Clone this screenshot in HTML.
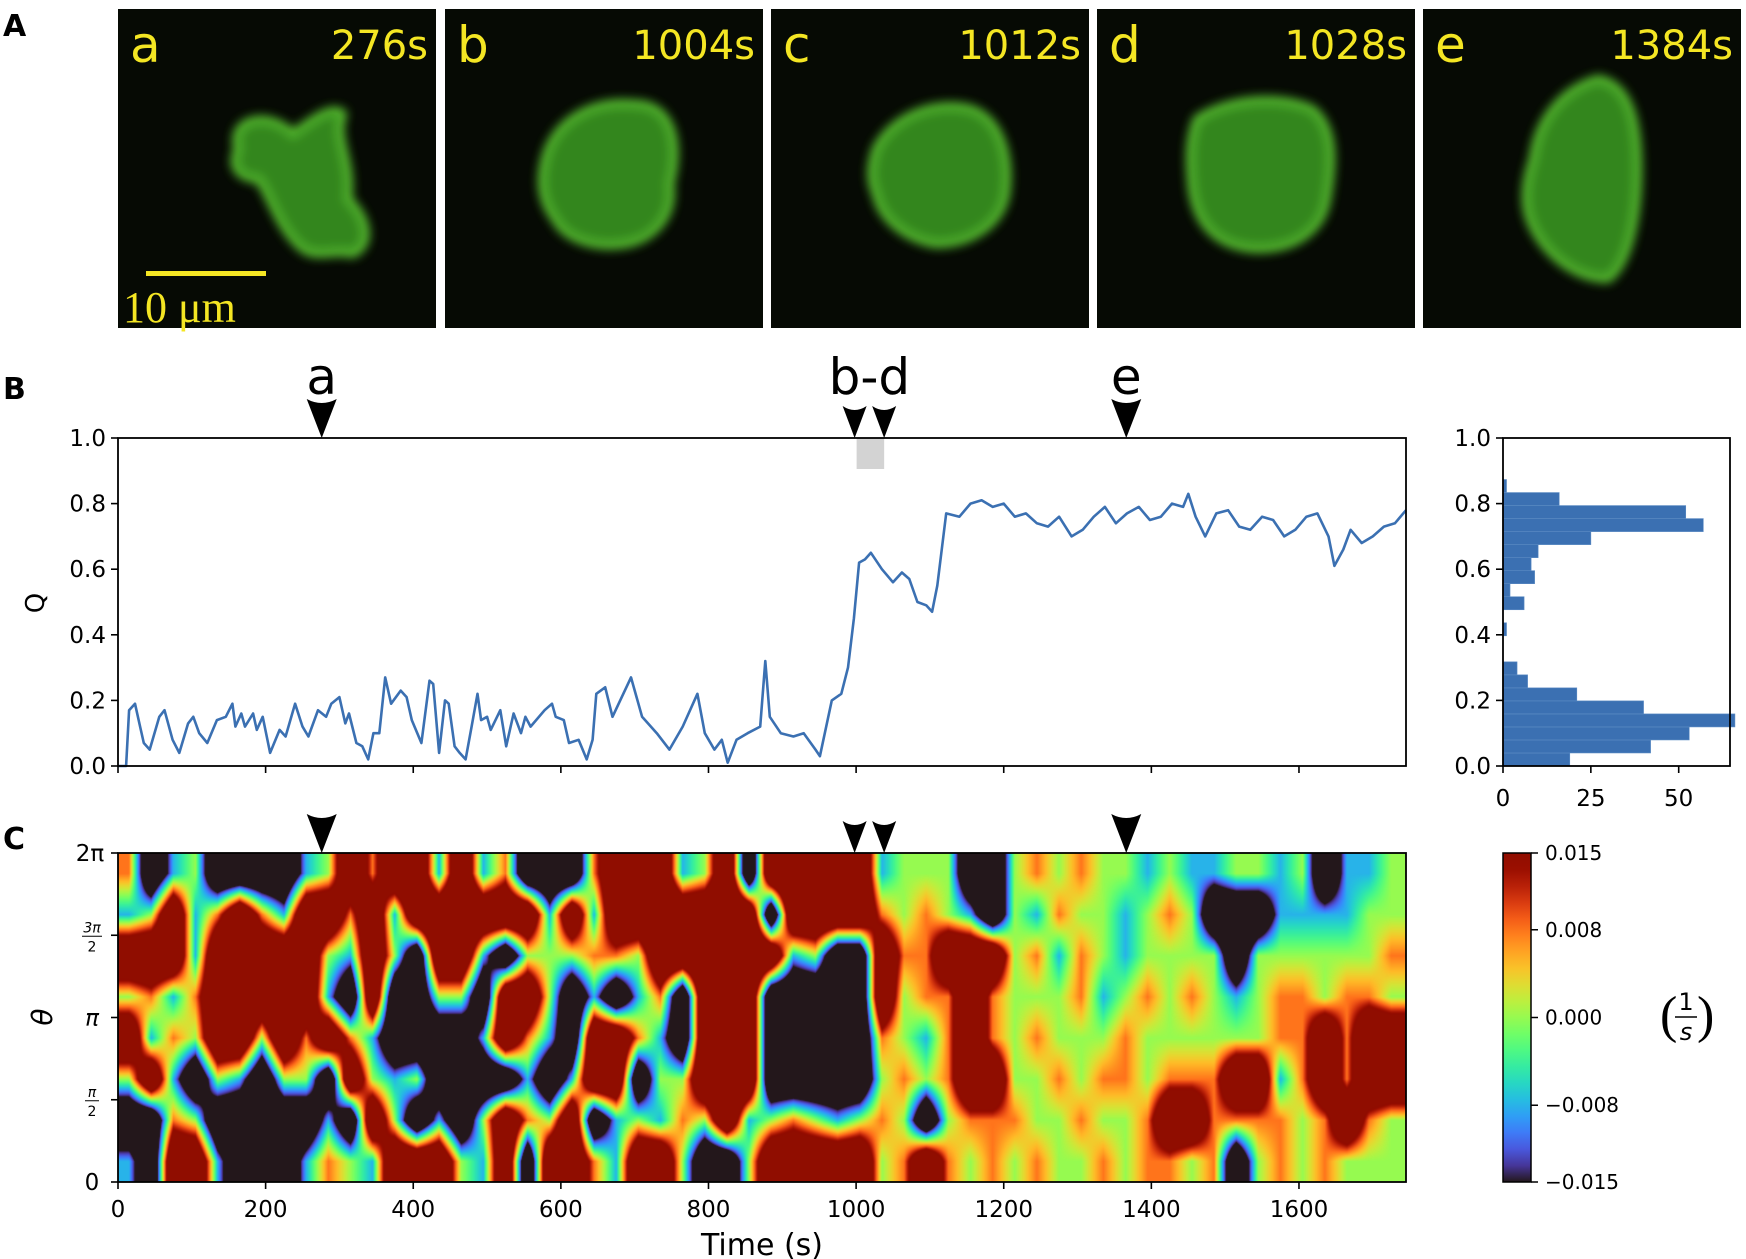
<!DOCTYPE html>
<html><head><meta charset="utf-8">
<style>
html,body{margin:0;padding:0;background:#fff;}
#wrap{position:relative;width:1746px;height:1259px;overflow:hidden;font-family:"DejaVu Sans","Liberation Sans",sans-serif;}
canvas,svg{position:absolute;}
</style></head>
<body>
<div id="wrap">
<canvas id="heat" width="1288" height="329" style="left:118px;top:853px;"></canvas>
<svg id="fig" width="1746" height="1259" style="left:0;top:0">
<defs>
<filter id="blur4" x="-20%" y="-20%" width="140%" height="140%"><feGaussianBlur stdDeviation="5"/></filter>
<filter id="blur2" x="-20%" y="-20%" width="140%" height="140%"><feGaussianBlur stdDeviation="2"/></filter>
<linearGradient id="cbgrad" x1="0" y1="1" x2="0" y2="0"></linearGradient>
</defs>
<g id="panelA"></g>
<g id="panelB"></g>
<g id="panelH"></g>
<g id="panelC"></g>
</svg>
</div>
<script>
// ---------- DATA ----------
const qTimes = [0,11,15,23,30,35,43,56,63,74,83,95,102,110,121,134,146,155,159,167,172,183,188,196,206,219,227,240,250,258,271,282,289,300,308,313,323,331,339,346,354,362,370,383,391,398,411,422,427,435,443,448,456,463,471,479,487,492,500,505,518,526,536,546,552,559,578,588,593,604,611,624,635,643,648,660,670,695,710,730,747,765,785,795,808,818,826,838,853,870,877,883,898,915,929,945,951,967,980,989,997,1004,1012,1020,1035,1050,1062,1072,1083,1095,1103,1110,1122,1140,1155,1170,1185,1200,1215,1230,1245,1260,1275,1292,1307,1322,1337,1352,1367,1383,1398,1413,1428,1443,1450,1460,1473,1488,1504,1519,1534,1550,1565,1580,1595,1610,1625,1640,1648,1660,1670,1685,1700,1715,1730,1745];
const qValues = [0,0,0.17,0.19,0.12,0.07,0.05,0.15,0.17,0.08,0.04,0.13,0.15,0.10,0.07,0.14,0.15,0.19,0.12,0.16,0.12,0.16,0.11,0.15,0.04,0.11,0.09,0.19,0.12,0.09,0.17,0.15,0.19,0.21,0.13,0.16,0.07,0.06,0.02,0.10,0.10,0.27,0.19,0.23,0.21,0.14,0.07,0.26,0.25,0.04,0.20,0.19,0.06,0.04,0.02,0.12,0.22,0.14,0.15,0.11,0.17,0.06,0.16,0.10,0.15,0.12,0.17,0.19,0.15,0.14,0.07,0.08,0.02,0.08,0.22,0.24,0.15,0.27,0.15,0.10,0.05,0.12,0.22,0.10,0.05,0.08,0.01,0.08,0.10,0.12,0.32,0.15,0.10,0.09,0.10,0.05,0.03,0.20,0.22,0.30,0.45,0.62,0.63,0.65,0.60,0.56,0.59,0.57,0.50,0.49,0.47,0.55,0.77,0.76,0.80,0.81,0.79,0.80,0.76,0.77,0.74,0.73,0.76,0.70,0.72,0.76,0.79,0.74,0.77,0.79,0.75,0.76,0.80,0.79,0.83,0.76,0.70,0.77,0.78,0.73,0.72,0.76,0.75,0.70,0.72,0.76,0.77,0.70,0.61,0.66,0.72,0.68,0.70,0.73,0.74,0.78];
const histCounts = [19,42,53,66,40,21,7,4,0,0,1,0,6,2,9,8,10,25,57,52,16,1];
const histBinWidth = 0.0397;
const qTickLabels = ["0.0","0.2","0.4","0.6","0.8","1.0"];
const timeTickLabels = ["0","200","400","600","800","1000","1200","1400","1600"];
const histTickLabels = ["0","25","50"];
const cbTickValues = [-0.015,-0.008,0,0.008,0.015];
const cbTickLabels = ["\u22120.015","\u22120.008","0.000","0.008","0.015"];
const heatLevels = [-0.035,-0.008,0,0.008,0.035];
// rows top (theta=2pi) to bottom (theta=0); columns 30 s each
const heatRows = [
"3012000012434414130003444124044444122200232322121122120112",
"1241343144341444444141444444404444323210213221232000111122",
"4441444442142044102223324444441200433444231321222202222223",
"2313444441040022044201013044400000423343222312323212332332",
"4132442434310000143104431044400000321343232223222222334344",
"2410210220421200001014402244400000232344223233233344134344",
"0032000001042010243240121324123212320233322322344333323432",
"1044100013214442140443144200244444234323232232332302323222"];
const heatColSeconds = 30;
const markerTimes = [276, 998, 1038, 1366];
const markerLabels = ["a","b-d","e"];
const imgLabels = ["a","b","c","d","e"];
const imgTimes = ["276s","1004s","1012s","1028s","1384s"];

// ---------- helpers ----------
const NS="http://www.w3.org/2000/svg";
function mk(tag, attrs, parent){const e=document.createElementNS(NS,tag);for(const k in attrs)e.setAttribute(k,attrs[k]);if(parent)parent.appendChild(e);return e;}
function turbo(x){x=Math.max(0,Math.min(1,x));
 const r=0.13572138+x*(4.61539260+x*(-42.66032258+x*(132.13108234+x*(-152.94239396+x*59.28637943))));
 const g=0.09140261+x*(2.19418839+x*(4.84296658+x*(-14.18503333+x*(4.27729857+x*2.82956604))));
 const b=0.10667330+x*(12.64194608+x*(-60.58204836+x*(110.36276771+x*(-89.90310912+x*27.34824973))));
 return [Math.round(255*Math.max(0,Math.min(1,r))),Math.round(255*Math.max(0,Math.min(1,g))),Math.round(255*Math.max(0,Math.min(1,b)))];}

const AX={l:118,r:1406,tB:438,bB:766,tC:853,bC:1182,tmax:1745};
const xT=t=>AX.l+(t/AX.tmax)*(AX.r-AX.l);
const yQ=q=>AX.bB-q*(AX.bB-AX.tB);
const H={l:1503,r:1730,max:64.6};
const xH=c=>H.l+c/H.max*(H.r-H.l);
const fontS='"DejaVu Sans","Liberation Sans",sans-serif';

// ---------- Panel A ----------
const gA=document.getElementById('panelA');
const lbA=mk('text',{x:3,y:36,'font-size':30,'font-weight':'bold','font-family':fontS,fill:'#000'},gA);lbA.textContent='A';

const imgX=[118,445,771,1097,1423];
const cellPaths=[
"M120,140 C110,110 150,100 175,125 C195,110 215,95 225,105 C215,130 235,150 230,190 C250,210 255,235 235,245 C215,240 200,250 185,240 C160,220 150,180 140,170 C125,170 110,160 120,140Z",
"M100,150 C110,110 150,90 190,95 C230,95 235,140 225,175 C230,205 210,230 180,235 C150,240 120,230 110,210 C95,190 95,170 100,150Z",
"M105,140 C120,110 160,90 200,100 C230,110 240,150 235,185 C230,215 200,235 165,235 C135,230 110,210 105,185 C98,170 100,155 105,140Z",
"M100,110 C130,90 180,85 215,100 C240,120 235,160 230,190 C225,220 200,240 160,240 C120,238 100,215 95,180 C92,150 92,130 100,110Z",
"M110,150 C115,110 140,80 175,70 C205,75 215,110 215,160 C215,210 205,255 185,270 C150,270 115,240 105,205 C100,185 105,165 110,150Z"];
for(let i=0;i<5;i++){
 const g=mk('g',{transform:`translate(${imgX[i]},9)`},gA);
 
 mk('rect',{x:0,y:0,width:318,height:319,fill:'#060a04'},g);
 mk('path',{d:cellPaths[i],fill:'#2f7d1c',stroke:'#5fcf35','stroke-width':8,filter:'url(#blur4)',opacity:0.95},g);
 mk('path',{d:cellPaths[i],fill:'#3d9a24',opacity:0.45,filter:'url(#blur2)',transform:'translate(8,8) scale(0.95)'},g);
 const t1=mk('text',{x:12,y:53,'font-size':50,'font-family':fontS,fill:'#f4e623'},g);t1.textContent=imgLabels[i];
 
 const t2=mk('text',{x:310,y:50,'font-size':40,'font-family':fontS,fill:'#f4e623','text-anchor':'end'},g);t2.textContent=imgTimes[i];
 
 if(i===0){
  const sb=mk('rect',{x:28,y:262,width:120,height:5,fill:'#f4e623'},g);
  
  const st=mk('text',{x:5,y:313,'font-size':44,'font-family':'"Liberation Serif",serif',fill:'#f4e623'},g);st.textContent='10 \u03bcm';
  
 }
}

// ---------- Panel B ----------
const gB=document.getElementById('panelB');
const lbB=mk('text',{x:3,y:399,'font-size':30,'font-weight':'bold','font-family':fontS,fill:'#000'},gB);lbB.textContent='B';

const hl=mk('rect',{x:xT(markerTimes[1])+2,y:AX.tB,width:xT(markerTimes[2])-xT(markerTimes[1])-2,height:31,fill:'#d3d3d3'},gB);

let pd='';for(let i=0;i<qTimes.length;i++){pd+=(i?'L':'M')+xT(qTimes[i]).toFixed(1)+','+yQ(qValues[i]).toFixed(1);}
const ql=mk('path',{d:pd,fill:'none',stroke:'#3b70b2','stroke-width':2.6,'stroke-linejoin':'round'},gB);

const fr=mk('rect',{x:AX.l,y:AX.tB,width:AX.r-AX.l,height:AX.bB-AX.tB,fill:'none',stroke:'#000','stroke-width':1.8},gB);

qTickLabels.forEach((s,i)=>{const y=yQ(i*0.2);
 mk('line',{x1:AX.l-7,x2:AX.l,y1:y,y2:y,stroke:'#000','stroke-width':1.6},gB);
 const t=mk('text',{x:AX.l-12,y:y+8,'font-size':23,'font-family':fontS,'text-anchor':'end'},gB);t.textContent=s;
 });
timeTickLabels.forEach((s,i)=>{const x=xT(i*200);mk('line',{x1:x,x2:x,y1:AX.bB,y2:AX.bB+7,stroke:'#000','stroke-width':1.6},gB);});
const qy=mk('text',{x:0,y:0,'font-size':26,'font-family':fontS,'text-anchor':'middle',transform:`translate(44,603) rotate(-90)`},gB);qy.textContent='Q';

function arrow(g,t,yb,big){const x=xT(t),w=big?15:12,h=big?39:32;
 const a=mk('path',{d:`M${x-w},${yb-h} Q${x},${yb-h+8} ${x+w},${yb-h} L${x},${yb}Z`,fill:'#000'},g);return a;}
markerTimes.forEach((t,i)=>{const a=arrow(gB,t,AX.tB,i===0||i===3);});
[[markerTimes[0],markerLabels[0]],[(markerTimes[1]+markerTimes[2])/2,markerLabels[1]],[markerTimes[3],markerLabels[2]]].forEach(p=>{
 const t=mk('text',{x:xT(p[0]),y:394,'font-size':50,'font-family':fontS,'text-anchor':'middle'},gB);t.textContent=p[1];
 });

// ---------- Histogram ----------
const gH=document.getElementById('panelH');
histCounts.forEach((c,i)=>{if(!c)return;const y0=yQ(i*histBinWidth),y1=yQ((i+1)*histBinWidth);
 const r=mk('rect',{x:H.l,y:y1,width:xH(c)-H.l,height:y0-y1,fill:'#3b70b2',stroke:'#5d8cc4','stroke-width':0.6},gH);
 });
const hf=mk('rect',{x:H.l,y:AX.tB,width:H.r-H.l,height:AX.bB-AX.tB,fill:'none',stroke:'#000','stroke-width':1.8},gH);

qTickLabels.forEach((s,i)=>{const y=yQ(i*0.2);mk('line',{x1:H.l-7,x2:H.l,y1:y,y2:y,stroke:'#000','stroke-width':1.6},gH);
 const t=mk('text',{x:H.l-12,y:y+8,'font-size':23,'font-family':fontS,'text-anchor':'end'},gH);t.textContent=s;
 });
histTickLabels.forEach((s,i)=>{const x=xH(i*25);mk('line',{x1:x,x2:x,y1:AX.bB,y2:AX.bB+7,stroke:'#000','stroke-width':1.6},gH);
 const t=mk('text',{x:x,y:806,'font-size':23,'font-family':fontS,'text-anchor':'middle'},gH);t.textContent=s;
 });

// ---------- Heatmap ----------
const cv=document.getElementById('heat'),ctx=cv.getContext('2d');
const W=cv.width,Hh=cv.height,img=ctx.createImageData(W,Hh);
const nR=heatRows.length,nC=heatRows[0].length;
const val=(r,c)=>heatLevels[+heatRows[Math.max(0,Math.min(nR-1,r))][Math.max(0,Math.min(nC-1,c))]];
for(let py=0;py<Hh;py++){const fr_=(py+0.5)/Hh*nR-0.5,r0=Math.floor(fr_),ry=fr_-r0;
 for(let px=0;px<W;px++){const t=(px+0.5)/W*AX.tmax;const fc=t/heatColSeconds-0.5,c0=Math.floor(fc),cx=fc-c0;
  const v=(val(r0,c0)*(1-cx)+val(r0,c0+1)*cx)*(1-ry)+(val(r0+1,c0)*(1-cx)+val(r0+1,c0+1)*cx)*ry;
  const col=turbo((v+0.015)/0.03),k=(py*W+px)*4;img.data[k]=col[0];img.data[k+1]=col[1];img.data[k+2]=col[2];img.data[k+3]=255;}}
ctx.putImageData(img,0,0);

// ---------- Panel C axes ----------
const gC=document.getElementById('panelC');
const lbC=mk('text',{x:3,y:849,'font-size':30,'font-weight':'bold','font-family':fontS,fill:'#000'},gC);lbC.textContent='C';

const cf=mk('rect',{x:AX.l,y:AX.tC,width:AX.r-AX.l,height:AX.bC-AX.tC,fill:'none',stroke:'#000','stroke-width':1.8},gC);

markerTimes.forEach((t,i)=>{const a=arrow(gC,t,AX.tC,i===0||i===3);});
timeTickLabels.forEach((s,i)=>{const x=xT(i*200);mk('line',{x1:x,x2:x,y1:AX.bC,y2:AX.bC+7,stroke:'#000','stroke-width':1.6},gC);
 const t=mk('text',{x:x,y:1217,'font-size':23,'font-family':fontS,'text-anchor':'middle'},gC);t.textContent=s;
 });
const tl=mk('text',{x:762,y:1255,'font-size':30,'font-family':fontS,'text-anchor':'middle'},gC);tl.textContent='Time (s)';

const thY=k=>AX.bC-k*(AX.bC-AX.tC)/4;
[0,1,2,3,4].forEach(k=>{mk('line',{x1:AX.l-7,x2:AX.l,y1:thY(k),y2:thY(k),stroke:'#000','stroke-width':1.6},gC);});
function tt(x,y,s,fs,extra){const t=mk('text',Object.assign({x:x,y:y,'font-size':fs,'font-family':fontS,'text-anchor':'middle'},extra||{}),gC);t.textContent=s;return t;}
tt(92,thY(0)+8,'0',23);
tt(92,thY(1)-3,'\u03c0',14,{'font-style':'italic'});mk('line',{x1:85,x2:99,y1:thY(1)+1,y2:thY(1)+1,stroke:'#000','stroke-width':1},gC);tt(92,thY(1)+16,'2',14);
tt(92,thY(2)+8,'\u03c0',23,{'font-style':'italic'});
tt(92,thY(3)-3,'3\u03c0',14,{'font-style':'italic'});mk('line',{x1:82,x2:102,y1:thY(3)+1,y2:thY(3)+1,stroke:'#000','stroke-width':1},gC);tt(92,thY(3)+16,'2',14);
tt(90,thY(4)+8,'2\u03c0',23);
const th=mk('text',{x:0,y:0,'font-size':28,'font-family':fontS,'font-style':'italic','text-anchor':'middle',transform:'translate(52,1017) rotate(-90)'},gC);th.textContent='\u03b8';

const grad=document.getElementById('cbgrad');
for(let i=0;i<=20;i++){const c=turbo(i/20);mk('stop',{offset:(i/20),'stop-color':`rgb(${c[0]},${c[1]},${c[2]})`},grad);}
const CB={l:1503,r:1531};
const yCB=v=>AX.bC-(v+0.015)/0.03*(AX.bC-AX.tC);
const cb=mk('rect',{x:CB.l,y:AX.tC,width:CB.r-CB.l,height:AX.bC-AX.tC,fill:'url(#cbgrad)',stroke:'#000','stroke-width':1.5},gC);

cbTickValues.forEach((v,i)=>{const y=yCB(v);mk('line',{x1:CB.r,x2:CB.r+7,y1:y,y2:y,stroke:'#000','stroke-width':1.5},gC);
 const t=mk('text',{x:CB.r+14,y:y+7,'font-size':20,'font-family':fontS},gC);t.textContent=cbTickLabels[i];
 });
const ul=mk('g',{},gC);
const lp=mk('text',{x:1660,y:1032,'font-size':52,'font-family':'"Liberation Serif",serif',fill:'#000'},ul);lp.textContent='(';
const rp=mk('text',{x:1697,y:1032,'font-size':52,'font-family':'"Liberation Serif",serif',fill:'#000'},ul);rp.textContent=')';
const n1=mk('text',{x:1686,y:1010,'font-size':24,'font-family':fontS,'text-anchor':'middle'},ul);n1.textContent='1';
mk('line',{x1:1675,x2:1697,y1:1017,y2:1017,stroke:'#000','stroke-width':1.5},ul);
const d1=mk('text',{x:1686,y:1040,'font-size':24,'font-family':fontS,'font-style':'italic','text-anchor':'middle'},ul);d1.textContent='s';
</script>
</body></html>
